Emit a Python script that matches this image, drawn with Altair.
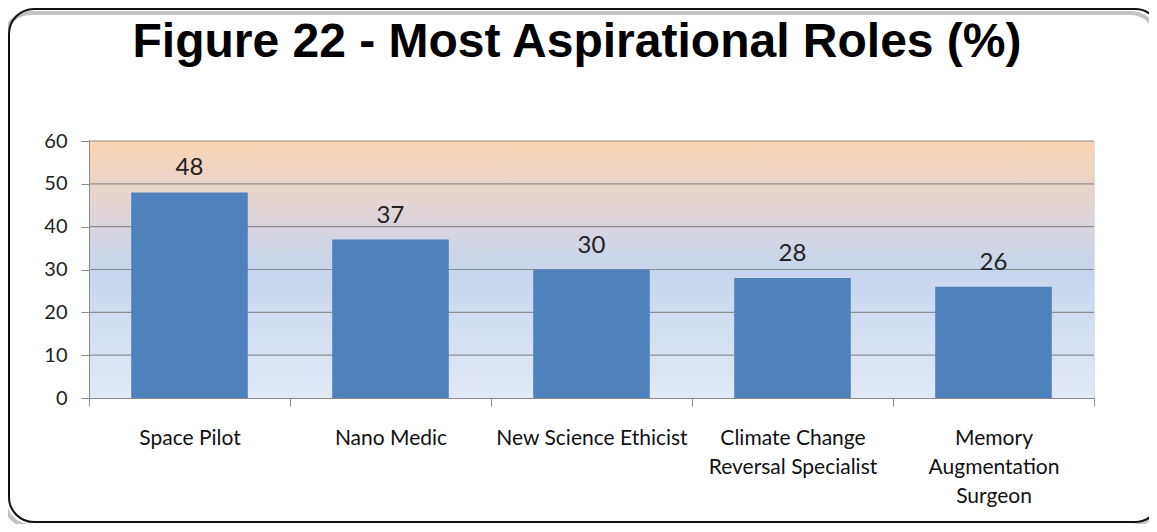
import altair as alt
import pandas as pd

# ---- data ----
categories = [
    "Space Pilot",
    "Nano Medic",
    "New Science  Ethicist",
    "Climate Change|Reversal Specialist",
    "Memory|Augmentation|Surgeon",
]
values = [48, 37, 30, 28, 26]
grid_values = [10, 20, 30, 40, 50, 60]
y_ticks = [0, 10, 20, 30, 40, 50, 60]
title_text = "Figure 22 - Most Aspirational Roles (%)"

W, H = 1005, 257

bars_df = pd.DataFrame({"role": categories, "value": values})
grid_df = pd.DataFrame({"value": grid_values})
one_df = pd.DataFrame({"k": [0]})

x_axis = alt.Axis(
    title=None,
    labelExpr="split(datum.label, '|')",
    labelAngle=0,
    labelFont="Lato",
    labelFontSize=21,
    labelColor="#111111",
    labelLineHeight=29,
    labelBaseline="top",
    labelPadding=21,
    labelLimit=400,
    tickBand="extent",
    tickSize=8,
    tickColor="#8a8a8a",
    domainColor="#8a8a8a",
    grid=False,
    zindex=1,
)
y_axis = alt.Axis(
    title=None,
    values=y_ticks,
    labelFont="Lato",
    labelFontSize=20,
    labelColor="#222222",
    labelPadding=14,
    tickSize=8,
    tickColor="#8a8a8a",
    domainColor="#8a8a8a",
    grid=False,
    zindex=1,
)
x_scale = alt.Scale(paddingInner=0, paddingOuter=0)
y_scale = alt.Scale(domain=[0, 60], nice=False, zero=True)

shadow = alt.Chart(one_df).mark_rect(
    cornerRadius=25, fillOpacity=0, stroke="#9a9a9a", strokeWidth=4, opacity=0.6
).encode(
    x=alt.value(-84), x2=alt.value(1067), y=alt.value(-128), y2=alt.value(385)
)

frame = alt.Chart(one_df).mark_rect(
    cornerRadius=25, fillOpacity=0, stroke="#111111", strokeWidth=2
).encode(
    x=alt.value(-80), x2=alt.value(1071), y=alt.value(-132), y2=alt.value(381)
)

background = alt.Chart(one_df).mark_rect(
    fill=alt.Gradient(
        gradient="linear",
        x1=0, x2=0, y1=0, y2=1,
        stops=[
            alt.GradientStop(color="#FBD4B4", offset=0),
            alt.GradientStop(color="#DDD5DA", offset=0.3),
            alt.GradientStop(color="#C6D5EE", offset=0.5),
            alt.GradientStop(color="#E2E9F6", offset=1),
        ],
    )
).encode(x=alt.value(0), x2=alt.value(W), y=alt.value(0), y2=alt.value(H))

grid = alt.Chart(grid_df).mark_rule(color="#8c8c8c", strokeWidth=1.2).encode(
    y=alt.Y("value:Q", scale=y_scale, axis=y_axis),
    x=alt.value(0),
    x2=alt.value(W),
)

bars = alt.Chart(bars_df).mark_bar(
    color="#4F81BD", width=alt.RelativeBandSize(0.58)
).encode(
    x=alt.X("role:N", sort=categories, scale=x_scale, axis=x_axis),
    y=alt.Y("value:Q", scale=y_scale, axis=y_axis),
)

labels = alt.Chart(bars_df).mark_text(
    font="Lato", fontSize=24, color="#222222", baseline="alphabetic", dy=-17
).encode(
    x=alt.X("role:N", sort=categories, scale=x_scale, axis=x_axis),
    y=alt.Y("value:Q", scale=y_scale, axis=y_axis),
    text=alt.Text("value:Q"),
)

title = alt.Chart(one_df).mark_text(
    text=title_text,
    font="Liberation Sans",
    fontSize=48,
    fontWeight="bold",
    color="#000000",
    align="center",
    baseline="alphabetic",
).encode(x=alt.value(488), y=alt.value(-84))

chart = (
    alt.layer(shadow, frame, background, grid, bars, labels, title)
    .properties(
        width=W,
        height=H,
        autosize=alt.AutoSizeParams(type="none"),
        padding={"left": 81, "top": 133, "right": 55, "bottom": 126},
    )
    .configure_view(stroke="transparent")
    .configure(background="white")
)

chart.save("out.html", embed_options={"renderer": "svg", "actions": False})
